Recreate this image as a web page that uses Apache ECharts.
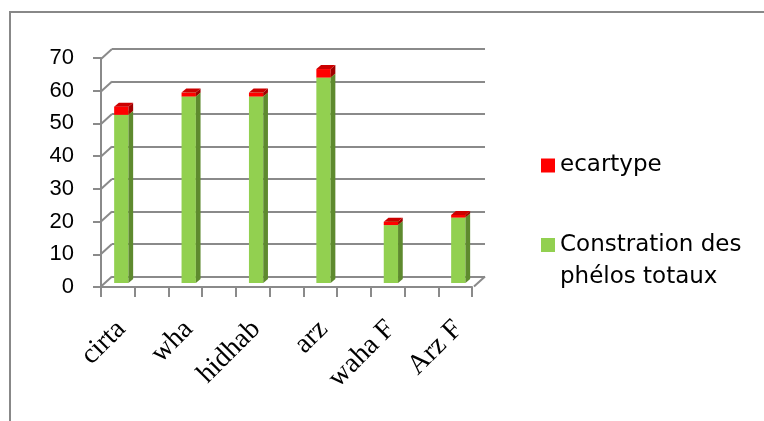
<!DOCTYPE html>
<html>
<head>
<meta charset="utf-8">
<script src="https://cdn.jsdelivr.net/npm/echarts@6/dist/echarts.min.js"></script>
<style>
  html, body { margin: 0; padding: 0; background: #ffffff; }
  #chart { width: 764px; height: 421px; }
</style>
</head>
<body>
<div id="chart"></div>
<script>
// Sample sites and measured values
const categories = ['cirta', 'wha', 'hidhab', 'arz', 'waha F', 'Arz F'];
const concentration = [51.4, 57.0, 57.0, 62.8, 17.7, 20.0];
const ecartype = [2.5, 1.2, 1.2, 2.6, 1.0, 0.8];
const yTicks = [0, 10, 20, 30, 40, 50, 60, 70];

const NAME_GREEN = 'Constration des phélos totaux';
const NAME_RED = 'ecartype';

const GRID_GRAY = '#8a8a8a';

// Box-shaped bar: front face, right side face and top face
function prism(front, side, top) {
  return function (params, api) {
    const i = api.value(0), lo = api.value(1), hi = api.value(2);
    const pLo = api.coord([i, lo]);
    const pHi = api.coord([i, hi]);
    const w = 14.3, dx = 4.7, dy = 4;
    const x0 = pLo[0] - w / 2, x1 = x0 + w;
    const yB = pLo[1], yT = pHi[1];
    return {
      type: 'group',
      children: [
        { type: 'rect', shape: { x: x0, y: yT, width: w, height: yB - yT }, style: { fill: front } },
        { type: 'polygon', shape: { points: [[x1, yB], [x1, yT], [x1 + dx, yT - dy], [x1 + dx, yB - dy]] }, style: { fill: side } },
        { type: 'polygon', shape: { points: [[x0, yT], [x1, yT], [x1 + dx, yT - dy], [x0 + dx, yT - dy]] }, style: { fill: top } }
      ]
    };
  };
}

// Depth connectors from the back wall to the front axis
const DEPTH_DX = -11, DEPTH_DY = 10;
function connector(params, api) {
  const p = api.coord([api.value(0), api.value(1)]);
  return {
    type: 'line',
    shape: { x1: p[0], y1: p[1], x2: p[0] + DEPTH_DX, y2: p[1] + DEPTH_DY },
    style: { stroke: GRID_GRAY, lineWidth: 2 }
  };
}

const greenData = categories.map((c, i) => [i, 0, concentration[i]]);
const redData = categories.map((c, i) => [i, concentration[i], concentration[i] + ecartype[i]]);
const leftEdge = yTicks.map(v => [0, v]);
const floorCorner = [[1, 0]];

const chart = echarts.init(document.getElementById('chart'));

chart.setOption({
  animation: false,
  backgroundColor: '#ffffff',
  graphic: [
    {
      type: 'polyline',
      shape: { points: [[10, 430], [10, 12], [770, 12]] },
      style: { stroke: '#888888', lineWidth: 2, fill: null },
      silent: true
    }
  ],
  grid: [
    // back wall
    { left: 112, top: 49, width: 373, height: 227.5 },
    // front plane
    { left: 101, top: 58, width: 371, height: 229 },
    // bar plane
    { left: 87.6, top: 54, width: 404.4, height: 229 }
  ],
  xAxis: [
    { gridIndex: 0, type: 'value', min: 0, max: 1, show: false },
    {
      gridIndex: 1, type: 'value', min: 0, max: 11, interval: 1,
      axisLine: { show: true, lineStyle: { color: GRID_GRAY, width: 2 } },
      axisTick: { show: true, length: 10, lineStyle: { color: GRID_GRAY, width: 2 } },
      axisLabel: { show: false },
      splitLine: { show: false }
    },
    {
      gridIndex: 2, type: 'category', data: categories, boundaryGap: true,
      axisLine: { show: false },
      axisTick: { show: false },
      axisLabel: {
        rotate: 45, margin: 42, interval: 0,
        fontFamily: 'Liberation Serif', fontSize: 28, color: '#000000'
      }
    }
  ],
  yAxis: [
    {
      gridIndex: 0, type: 'value', min: 0, max: 70, interval: 10,
      axisLine: { show: false }, axisTick: { show: false }, axisLabel: { show: false },
      splitLine: { show: true, lineStyle: { color: GRID_GRAY, width: 2 } }
    },
    {
      gridIndex: 1, type: 'value', min: 0, max: 70, interval: 10,
      axisLine: { show: true, lineStyle: { color: GRID_GRAY, width: 2 } },
      axisTick: { show: true, length: 8, lineStyle: { color: GRID_GRAY, width: 2 } },
      axisLabel: { margin: 27, fontFamily: 'Liberation Sans', fontSize: 22, color: '#000000' },
      splitLine: { show: false }
    },
    { gridIndex: 2, type: 'value', min: 0, max: 70, show: false }
  ],
  legend: [
    {
      data: [NAME_RED], left: 536, top: 149, orient: 'vertical',
      icon: 'rect', itemWidth: 14, itemHeight: 14, selectedMode: false,
      textStyle: { fontFamily: 'DejaVu Sans', fontSize: 23, color: '#000000' }
    },
    {
      data: [NAME_GREEN],
      left: 536, top: 192, orient: 'vertical',
      icon: 'rect', itemWidth: 14, itemHeight: 14, selectedMode: false,
      // blank first line keeps the icon level with "Constration des"
      formatter: () => '\nConstration des\nphélos totaux',
      textStyle: { fontFamily: 'DejaVu Sans', fontSize: 23, lineHeight: 32, color: '#000000' }
    }
  ],
  series: [
    {
      type: 'custom', name: 'edges', xAxisIndex: 0, yAxisIndex: 0,
      renderItem: connector, data: leftEdge.concat(floorCorner),
      encode: { x: 0, y: 1 }, silent: true, z: 1
    },
    {
      type: 'custom', name: NAME_GREEN, xAxisIndex: 2, yAxisIndex: 2,
      itemStyle: { color: '#92d050' },
      renderItem: prism('#92d050', '#5e8a2e', '#a6dc6a'),
      data: greenData, encode: { x: 0, y: [1, 2] }, z: 3
    },
    {
      type: 'custom', name: NAME_RED, xAxisIndex: 2, yAxisIndex: 2,
      itemStyle: { color: '#ff0000' },
      renderItem: prism('#ff0000', '#a00000', '#cc0000'),
      data: redData, encode: { x: 0, y: [1, 2] }, z: 4
    }
  ]
});
</script>
</body>
</html>
